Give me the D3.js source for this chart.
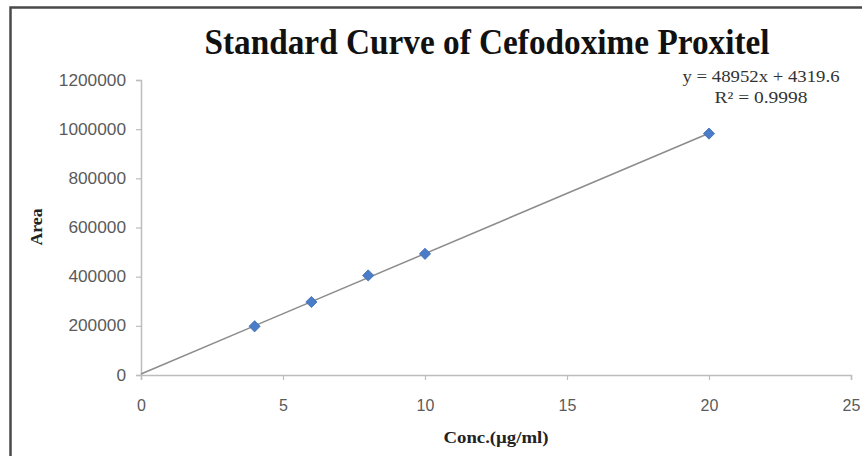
<!DOCTYPE html>
<html>
<head>
<meta charset="utf-8">
<script src="https://cdn.jsdelivr.net/npm/d3@7"></script>
<style>
  body { margin: 0; background: #fff; }
  svg { display: block; }
</style>
</head>
<body>
<div id="chart"></div>
<script>
// data
const conc = [4, 6, 8, 10, 20];
const area = [198000, 297000, 405000, 493000, 982000];
const xTicks = [0, 5, 10, 15, 20, 25];
const yTicks = [0, 200000, 400000, 600000, 800000, 1000000, 1200000];
const slope = 48952;
const intercept = 4319.6;
const eqLabel = "y = 48952x + 4319.6";
const r2Label = "R\u00b2 = 0.9998";

const width = 862, height = 456;
const margin = {left: 141, right: 10, top: 80, bottom: 81};

const svg = d3.select("#chart").append("svg")
    .attr("width", width)
    .attr("height", height);

// outer frame (only left/top edges visible)
svg.append("rect")
    .attr("x", 10.5).attr("y", 7.5)
    .attr("width", 900).attr("height", 500)
    .attr("fill", "none")
    .attr("stroke", "#4a4a4a")
    .attr("stroke-width", 2.5);

const x = d3.scaleLinear().domain([0, 25]).range([margin.left, 851]);
const y = d3.scaleLinear().domain([0, 1200000]).range([375, 80]);

var yAxis = svg.append("g")
    .attr("transform", `translate(${margin.left},0)`)
    .call(d3.axisLeft(y).tickValues(yTicks).tickSize(5).tickPadding(10).tickFormat(d3.format("d")));

var xAxis = svg.append("g")
    .attr("transform", `translate(0,${y(0)})`)
    .call(d3.axisBottom(x).tickValues(xTicks).tickSize(5).tickPadding(20));

[xAxis, yAxis].forEach(a => {
    a.select(".domain").attr("stroke", "#bdbdbd").attr("stroke-width", 1.5);
    a.selectAll(".tick line").attr("stroke", "#bdbdbd").attr("stroke-width", 1.2);
    a.selectAll("text")
        .attr("fill", "#5a5a5a")
        .style("font-family", "Liberation Sans, Arial, sans-serif")
        .style("font-size", "16px");
});
yAxis.selectAll("text").attr("textLength", function() {
    return d3.select(this).text().length * 9.6;
}).attr("lengthAdjust", "spacingAndGlyphs");

// trendline from the fitted equation
const fit = [0, d3.max(conc)].map(c => [c, slope * c + intercept]);
svg.append("path")
    .datum(fit)
    .attr("fill", "none")
    .attr("stroke", "#8c8c8c")
    .attr("stroke-width", 1.5)
    .attr("d", d3.line().x(d => x(d[0])).y(d => y(d[1])));

// markers
svg.selectAll(".pt")
    .data(conc.map((c, i) => [c, area[i]]))
    .enter().append("path")
    .attr("class", "pt")
    .attr("transform", d => `translate(${x(d[0])},${y(d[1])})`)
    .attr("d", d3.symbol(d3.symbolDiamond2, 80))
    .attr("fill", "#4a7cc7")
    .attr("stroke", "#3d6cb5")
    .attr("stroke-width", 0.8);

const serif = "Liberation Serif, Times New Roman, serif";

// title
svg.append("text")
    .attr("x", 487).attr("y", 54)
    .attr("text-anchor", "middle")
    .attr("textLength", 565)
    .attr("lengthAdjust", "spacingAndGlyphs")
    .style("font-family", serif)
    .style("font-weight", "bold")
    .style("font-size", "36px")
    .attr("fill", "#111")
    .text("Standard Curve of Cefodoxime Proxitel");

// equation
svg.append("text")
    .attr("x", 761).attr("y", 82)
    .attr("text-anchor", "middle")
    .attr("textLength", 157)
    .attr("lengthAdjust", "spacingAndGlyphs")
    .style("font-family", serif)
    .style("font-size", "16px")
    .attr("fill", "#333")
    .text(eqLabel);
svg.append("text")
    .attr("x", 761).attr("y", 103)
    .attr("text-anchor", "middle")
    .attr("textLength", 93)
    .attr("lengthAdjust", "spacingAndGlyphs")
    .style("font-family", serif)
    .style("font-size", "16px")
    .attr("fill", "#333")
    .text(r2Label);

// axis titles
svg.append("text")
    .attr("transform", "translate(42,227) rotate(-90)")
    .attr("text-anchor", "middle")
    .attr("textLength", 37)
    .attr("lengthAdjust", "spacingAndGlyphs")
    .style("font-family", serif)
    .style("font-weight", "bold")
    .style("font-size", "16px")
    .attr("fill", "#222")
    .text("Area");

svg.append("text")
    .attr("x", 496).attr("y", 443)
    .attr("text-anchor", "middle")
    .attr("textLength", 105)
    .attr("lengthAdjust", "spacingAndGlyphs")
    .style("font-family", serif)
    .style("font-weight", "bold")
    .style("font-size", "16px")
    .attr("fill", "#222")
    .text("Conc.(\u00b5g/ml)");
</script>
</body>
</html>
